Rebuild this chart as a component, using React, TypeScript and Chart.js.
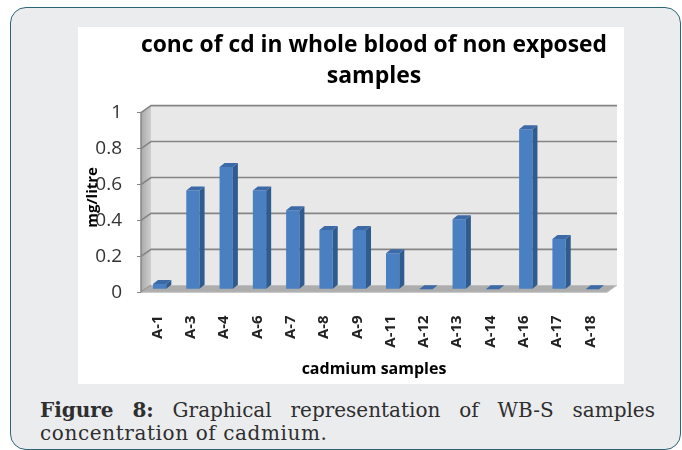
import React, { useEffect, useRef } from "react";
import { Chart, registerables } from "chart.js";

Chart.register(...registerables);

const categories = ["A-1", "A-3", "A-4", "A-6", "A-7", "A-8", "A-9", "A-11", "A-12", "A-13", "A-14", "A-16", "A-17", "A-18"];
const cadmiumValues = [0.03, 0.55, 0.68, 0.55, 0.44, 0.33, 0.33, 0.2, 0, 0.39, 0, 0.89, 0.28, 0];
const yTickValues = [0, 0.2, 0.4, 0.6, 0.8, 1];
const yTickLabels = ["0", "0.2", "0.4", "0.6", "0.8", "1"];
const chartTitle = ["conc of cd in whole blood of non exposed", "samples"];
const xAxisTitle = "cadmium samples";
const yAxisTitle = "mg/litre";
const captionWords = ["Graphical", "representation", "of", "WB-S", "samples"];
const captionLine2 = "concentration of cadmium.";

const WALL_DX = 10;
const WALL_DY = -7;
const BAR_SHIFT_X = 2;
const BAR_SHIFT_Y = -3;
const BAR_DX = 5;
const BAR_DY = -4;

const threeD = {
  id: "threeD",
  beforeDatasetsDraw(chart: any) {
    const { ctx, chartArea: ca, scales } = chart;
    const ys = scales.y;
    const y0 = ys.getPixelForValue(0);
    const y1 = ys.getPixelForValue(1);
    const L = ca.left;
    const R = ca.right;
    ctx.save();
    const g = ctx.createLinearGradient(L, 0, L + WALL_DX, 0);
    g.addColorStop(0, "#a9a9a9");
    g.addColorStop(1, "#cfcfcf");
    ctx.fillStyle = g;
    ctx.beginPath();
    ctx.moveTo(L, y1);
    ctx.lineTo(L + WALL_DX, y1 + WALL_DY);
    ctx.lineTo(L + WALL_DX, y0 + WALL_DY);
    ctx.lineTo(L, y0);
    ctx.closePath();
    ctx.fill();
    ctx.fillStyle = "#e8e8e8";
    ctx.fillRect(L + WALL_DX, y1 + WALL_DY, R - L, y0 - y1);
    ctx.lineWidth = 1.6;
    ctx.strokeStyle = "#858585";
    yTickValues.forEach((v) => {
      const py = ys.getPixelForValue(v);
      ctx.beginPath();
      ctx.moveTo(L, py);
      ctx.lineTo(L + WALL_DX, py + WALL_DY);
      if (v > 0) ctx.lineTo(R + WALL_DX, py + WALL_DY);
      ctx.stroke();
    });
    ctx.fillStyle = "#adadad";
    ctx.beginPath();
    ctx.moveTo(L, y0);
    ctx.lineTo(R, y0);
    ctx.lineTo(R + WALL_DX, y0 + WALL_DY);
    ctx.lineTo(L + WALL_DX, y0 + WALL_DY);
    ctx.closePath();
    ctx.fill();
    ctx.strokeStyle = "#c4c4c4";
    ctx.lineWidth = 1;
    ctx.beginPath();
    ctx.moveTo(L, y0);
    ctx.lineTo(R, y0);
    ctx.lineTo(R + WALL_DX, y0 + WALL_DY);
    ctx.stroke();
    ctx.strokeStyle = "#868686";
    ctx.lineWidth = 1.5;
    ctx.beginPath();
    ctx.moveTo(L, y1);
    ctx.lineTo(L, y0);
    ctx.stroke();
    ctx.restore();
    ctx.save();
    ctx.translate(BAR_SHIFT_X, BAR_SHIFT_Y);
  },
  afterDatasetsDraw(chart: any) {
    const { ctx } = chart;
    const meta = chart.getDatasetMeta(0);
    meta.data.forEach((bar: any) => {
      const { x, y, width, base } = bar.getProps(["x", "y", "width", "base"], true);
      const l = x - width / 2;
      const r = x + width / 2;
      ctx.fillStyle = "#2f5b8f";
      ctx.beginPath();
      ctx.moveTo(r, y);
      ctx.lineTo(r + BAR_DX, y + BAR_DY);
      ctx.lineTo(r + BAR_DX, base + BAR_DY);
      ctx.lineTo(r, base);
      ctx.closePath();
      ctx.fill();
      ctx.fillStyle = "#3b6aa7";
      ctx.beginPath();
      ctx.moveTo(l, y);
      ctx.lineTo(l + BAR_DX, y + BAR_DY);
      ctx.lineTo(r + BAR_DX, y + BAR_DY);
      ctx.lineTo(r, y);
      ctx.closePath();
      ctx.fill();
    });
    ctx.restore();
  },
  afterDraw(chart: any) {
    const { ctx, chartArea: ca } = chart;
    ctx.save();
    ctx.translate(ca.left - 48, (ca.top + ca.bottom) / 2 - 5);
    ctx.rotate(-Math.PI / 2);
    ctx.font = "bold 15px 'Open Sans'";
    ctx.fillStyle = "#000";
    ctx.textAlign = "center";
    ctx.textBaseline = "middle";
    ctx.fillText(yAxisTitle, 0, 0);
    ctx.restore();
  },
};

export default function App() {
  const ref = useRef<HTMLCanvasElement>(null);
  useEffect(() => {
    if (!ref.current) return;
    const chart = new Chart(ref.current, {
      type: "bar",
      data: {
        labels: categories,
        datasets: [
          {
            data: cadmiumValues,
            backgroundColor: "#4a7fc1",
            borderWidth: 0,
            barPercentage: 0.4,
            categoryPercentage: 1,
          },
        ],
      },
      options: {
        animation: false,
        responsive: true,
        maintainAspectRatio: false,
        layout: { padding: { left: 0, right: 17, top: 0, bottom: 0 } },
        plugins: {
          legend: { display: false },
          tooltip: { enabled: false },
          title: {
            display: true,
            text: chartTitle,
            fullSize: false,
            color: "#000",
            font: { family: "'Open Sans'", size: 23, weight: "bold", lineHeight: 1.35 },
            padding: { top: 2.5, bottom: 21 },
          },
        },
        scales: {
          x: {
            grid: { display: false },
            border: { display: false },
            ticks: {
              autoSkip: false,
              minRotation: 90,
              maxRotation: 90,
              padding: 15,
              color: "#222",
              font: { family: "'Open Sans'", size: 15, weight: "bold" },
            },
            title: {
              display: true,
              text: xAxisTitle,
              color: "#000",
              font: { family: "'Open Sans'", size: 16, weight: "bold", lineHeight: 1.2 },
              padding: { top: 0, bottom: 5 },
            },
            afterFit: (s: any) => {
              s.height = 91.7;
            },
          },
          y: {
            min: 0,
            max: 1,
            grid: { drawOnChartArea: false, drawTicks: true, tickLength: 4, color: "#868686" },
            border: { display: false },
            ticks: {
              stepSize: 0.2,
              padding: 15,
              color: "#333",
              font: { family: "'Open Sans'", size: 19 },
              callback: (_v: any, i: number) => yTickLabels[i],
            },
            afterFit: (s: any) => {
              s.width = 63;
            },
          },
        },
      },
      plugins: [threeD],
    });
    return () => chart.destroy();
  }, []);

  return (
    <div style={{ position: "fixed", left: 0, top: 0, width: 682, height: 450, background: "#fff", overflow: "hidden" }}>
      <div
        style={{
          position: "absolute",
          left: 10,
          top: 7,
          width: 671,
          height: 443,
          background: "#ebecee",
          border: "1.5px solid #2d6577",
          borderRadius: 16,
          boxSizing: "border-box",
        }}
      />
      <div style={{ position: "absolute", left: 78, top: 27, width: 546, height: 357, background: "#fff" }}>
        <canvas ref={ref} />
      </div>
      <div
        style={{
          position: "absolute",
          left: 40,
          top: 398,
          width: 615,
          height: 24,
          display: "flex",
          justifyContent: "space-between",
          alignItems: "baseline",
          fontFamily: "'DejaVu Serif'",
          fontSize: 20,
          lineHeight: "24px",
          color: "#2e2e2e",
          whiteSpace: "nowrap",
        }}
      >
        <span style={{ fontWeight: "bold" }}>Figure</span>
        <span style={{ fontWeight: "bold" }}>8:</span>
        {captionWords.map((w) => (
          <span key={w}>{w}</span>
        ))}
      </div>
      <div
        style={{
          position: "absolute",
          left: 40,
          top: 421,
          fontFamily: "'DejaVu Serif'",
          fontSize: 20,
          lineHeight: "24px",
          letterSpacing: 0.6,
          color: "#2e2e2e",
          whiteSpace: "nowrap",
        }}
      >
        {captionLine2}
      </div>
    </div>
  );
}
